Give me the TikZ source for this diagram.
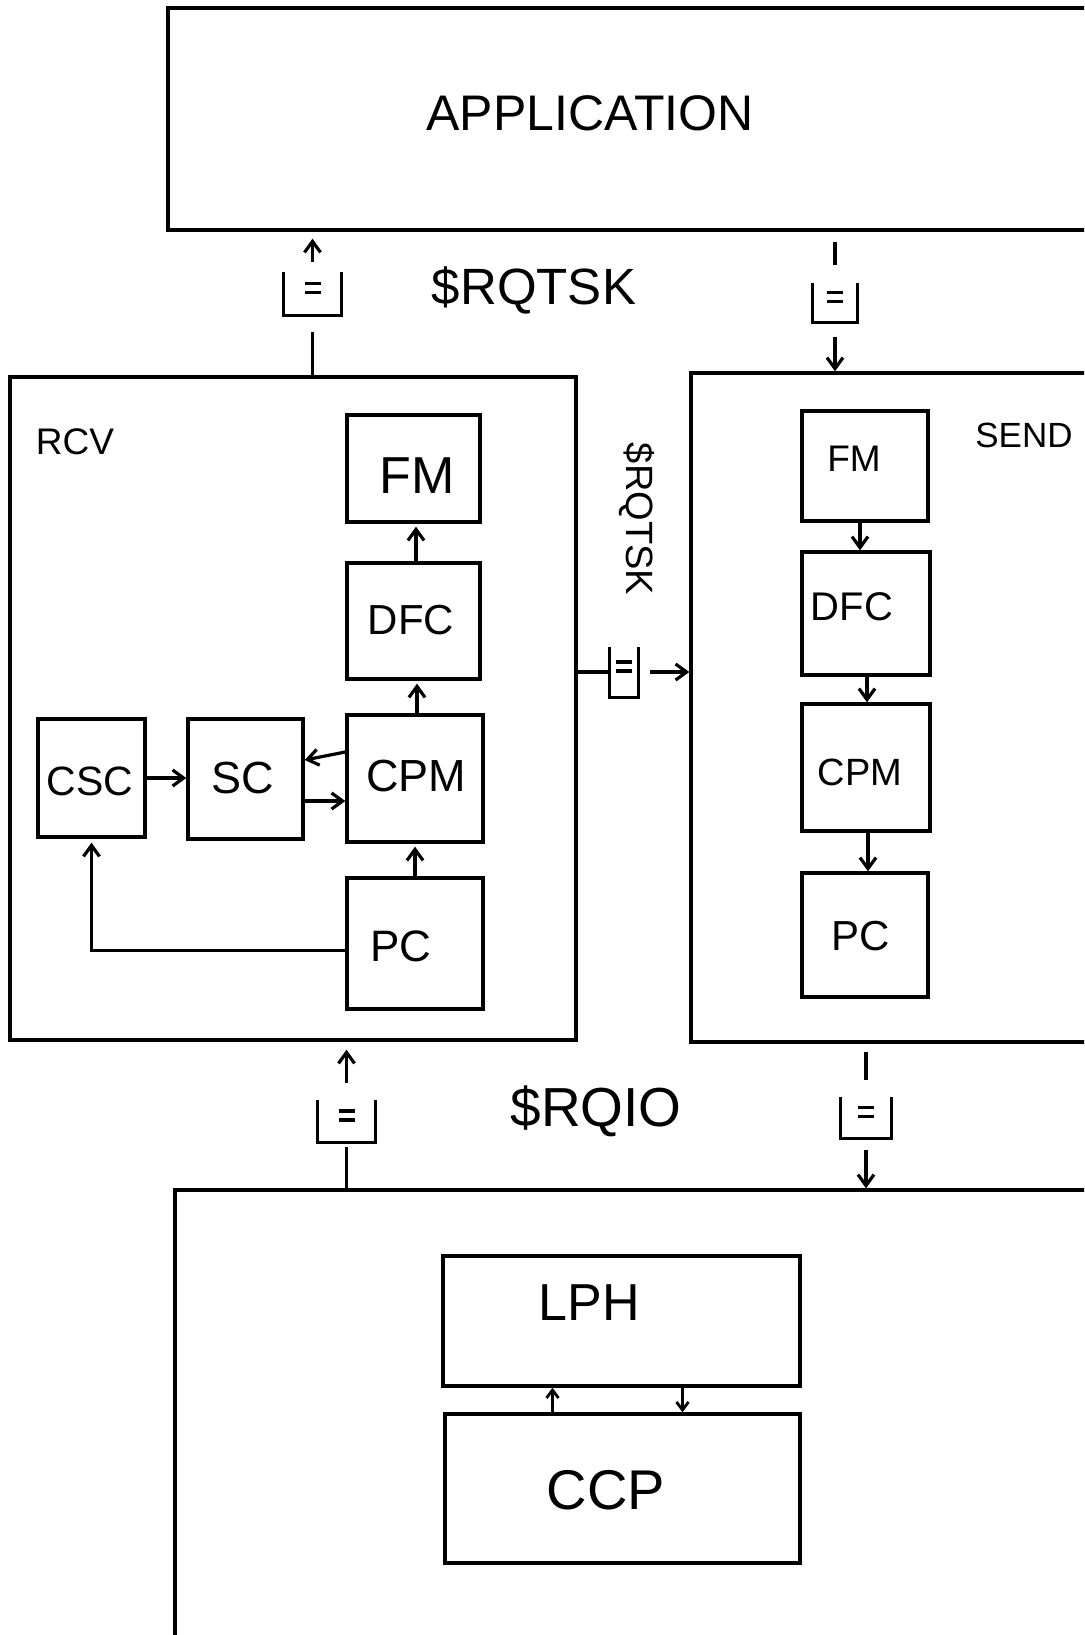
\documentclass[tikz,border=0pt]{standalone}
\usepackage{fontspec}
\setmainfont{Liberation Sans}
\usetikzlibrary{arrows.meta}
\tikzset{
  box/.style={draw, line width=3.4pt, inner sep=0pt},
  lbl/.style={inner sep=0pt, font=\fontsize{#1}{#1}\selectfont},
  arr/.style={line width=3.2pt, -{Straight Barb[length=11pt,width=16pt,line width=3.2pt]}},
  sarr/.style={line width=2.8pt, -{Straight Barb[length=8pt,width=12pt,line width=2.8pt]}},
  ln/.style={line width=3.2pt},
  qbox/.style={inner sep=0pt, draw=none},
}
\newcommand\qsym[4]{%
  \node[qbox, minimum width=#3pt, minimum height=#4pt] (#1) at (#2) {};
  \draw[ln] (#1.north west) -- (#1.south west) -- (#1.south east) -- (#1.north east);
  \draw[ln] ([xshift=-8pt,yshift=10pt]#1.center) -- ([xshift=8pt,yshift=10pt]#1.center)
            ([xshift=-8pt,yshift=1pt]#1.center) -- ([xshift=8pt,yshift=1pt]#1.center);
}
\begin{document}
\begin{tikzpicture}[x=1pt,y=-1pt]
\useasboundingbox (0,0) rectangle (1084,1635);
\fill[white] (0,0) rectangle (1084,1635);
\clip (0,0) rectangle (1084,1635);

% big boxes
\node[box, minimum width=952pt, minimum height=222pt] (app) at (644,119) {};
\node[box, minimum width=566pt, minimum height=663pt] (rcv) at (293,708.5) {};
\node[box, minimum width=429pt, minimum height=669pt] (send) at (905.5,707.5) {};
\node[box, minimum width=945pt, minimum height=490pt] (bot) at (647.5,1435) {};

% RCV inner boxes
\node[box, minimum width=133pt, minimum height=107pt] (rfm) at (413.5,468.5) {};
\node[box, minimum width=133pt, minimum height=116pt] (rdfc) at (413.5,621) {};
\node[box, minimum width=136pt, minimum height=127pt] (rcpm) at (415,778.5) {};
\node[box, minimum width=136pt, minimum height=131pt] (rpc) at (415,943.5) {};
\node[box, minimum width=107pt, minimum height=118pt] (csc) at (91.5,778) {};
\node[box, minimum width=115pt, minimum height=120pt] (sc) at (245.5,779) {};

% SEND inner boxes
\node[box, minimum width=126pt, minimum height=110pt] (sfm) at (865,466) {};
\node[box, minimum width=128pt, minimum height=123pt] (sdfc) at (866,613.5) {};
\node[box, minimum width=128pt, minimum height=127pt] (scpm) at (866,767.5) {};
\node[box, minimum width=126pt, minimum height=124pt] (spc) at (865,935) {};

% bottom inner boxes
\node[box, minimum width=357pt, minimum height=130pt] (lph) at (621.5,1321) {};
\node[box, minimum width=355pt, minimum height=149pt] (ccp) at (622.5,1488.5) {};

% labels
\node[lbl=50] (t-app) at (590,113) {APPLICATION};
\node[lbl=51] (t-rqtsk) at (534,290) {\$RQTSK};
\node[lbl=37] (t-rcv) at (75,442) {RCV};
\node[lbl=35] (t-send) at (1024,435) {SEND};
\node[lbl=38, rotate=-90] (t-rqtsk2) at (637,519) {\$RQTSK};
\node[lbl=55] (t-rqio) at (596,1111) {\$RQIO};
\node[lbl=52] (t-rfm) at (417,476) {FM};
\node[lbl=42] (t-rdfc) at (411,620) {DFC};
\node[lbl=45] (t-rcpm) at (416,776) {CPM};
\node[lbl=44] (t-rpc) at (401,946) {PC};
\node[lbl=41] (t-csc) at (90,781) {CSC};
\node[lbl=45] (t-sc) at (243,778) {SC};
\node[lbl=37] (t-sfm) at (854,459) {FM};
\node[lbl=40] (t-sdfc) at (852,607) {DFC};
\node[lbl=38] (t-scpm) at (860,772) {CPM};
\node[lbl=42] (t-spc) at (861,936) {PC};
\node[lbl=52] (t-lph) at (589,1303) {LPH};
\node[lbl=56] (t-ccp) at (606,1490) {CCP};

% queues
\qsym{q1}{312.5,293.5}{57}{43}
\qsym{q2}{835,302.5}{44}{39}
\qsym{q3}{624,672}{28}{50}
\qsym{q4}{346.5,1121}{57}{42}
\qsym{q5}{866,1117.5}{50}{41}

% queue connectors
\draw[ln, shorten >=17pt] (q1.south |- rcv.north) -- (q1.south);
\draw[arr, shorten <=10pt, shorten >=7pt] (q1.north) -- (q1.north |- app.south);
\draw[ln, shorten <=10pt, shorten >=18pt] (q2.north |- app.south) -- (q2.north);
\draw[arr, shorten <=15pt] (q2.south) -- (q2.south |- send.north);
\draw[ln] (q3.west -| rcv.east) -- (q3.west);
\draw[arr, shorten <=12pt] (q3.east) -- (q3.east -| send.west);
\draw[arr, shorten <=17pt, shorten >=8pt] (q4.north) -- (q4.north |- rcv.south);
\draw[ln, shorten >=5pt] (q4.south |- bot.north) -- (q4.south);
\draw[ln, shorten <=8pt, shorten >=17pt] (q5.north |- send.south) -- (q5.north);
\draw[arr, shorten <=12pt] (q5.south) -- (q5.south |- bot.north);

% RCV internal arrows
\draw[arr, shorten >=3pt] ([xshift=2.5pt]rdfc.north) -- ([xshift=2.5pt]rdfc.north |- rfm.south);
\draw[arr, shorten >=3pt] ([xshift=2pt]rcpm.north) -- ([xshift=2pt]rcpm.north |- rdfc.south);
\draw[arr, shorten >=3pt] (rpc.north) -- (rpc.north |- rcpm.south);
\draw[arr] ([yshift=26.5pt]rcpm.west) -- ([yshift=19pt]sc.east);
\draw[arr] ([yshift=-22pt]sc.east) -- ([yshift=-22pt]sc.east -| rcpm.west);
\draw[arr] (csc.east) -- (csc.east -| sc.west);
\draw[arr, shorten >=4pt] ([yshift=-7pt]rpc.west) -| (csc.south);

% SEND internal arrows
\draw[arr] ([xshift=-5pt]sfm.south) -- ([xshift=-5pt]sfm.south |- sdfc.north);
\draw[arr] ([xshift=1pt]sdfc.south) -- ([xshift=1pt]sdfc.south |- scpm.north);
\draw[arr] ([xshift=2pt]scpm.south) -- ([xshift=2pt]scpm.south |- spc.north);

% LPH / CCP arrows
\draw[sarr] ([xshift=-70pt]ccp.north) -- ([xshift=-70pt]ccp.north |- lph.south);
\draw[sarr] ([xshift=61pt]lph.south) -- ([xshift=61pt]lph.south |- ccp.north);
\end{tikzpicture}
\end{document}
